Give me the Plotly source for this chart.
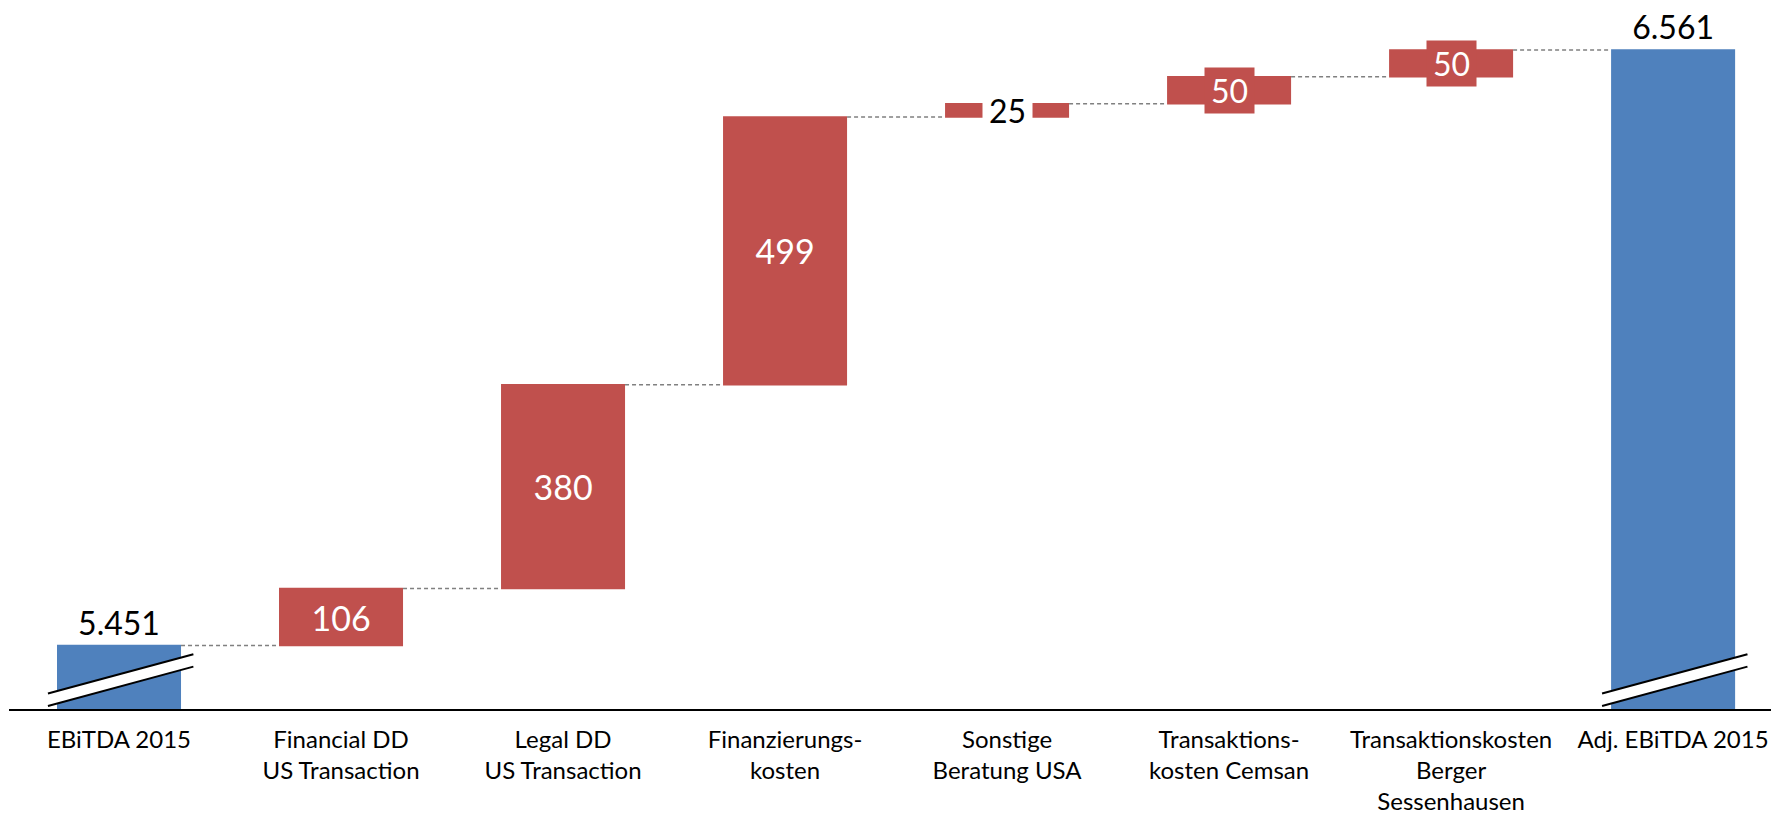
import plotly.graph_objects as go

categories = [
    "EBiTDA 2015",
    "Financial DD<br>US Transaction",
    "Legal DD<br>US Transaction",
    "Finanzierungs-<br>kosten",
    "Sonstige<br>Beratung USA",
    "Transaktions-<br>kosten Cemsan",
    "Transaktionskosten<br>Berger<br>Sessenhausen",
    "Adj. EBiTDA 2015",
]
values = [5451, 106, 380, 499, 25, 50, 50, 6561]
measures = ["absolute", "relative", "relative", "relative", "relative", "relative", "relative", "total"]
# how each value label is shown: "outside" above bar, "inside" in bar, "box" as overlay label
label_style = ["outside", "inside", "inside", "inside", "box_white", "box_red", "box_red", "outside"]

BLUE = "#4F81BD"
RED = "#C0504D"
FONT = "Lato"
Y_MIN, Y_MAX = 5332.5, 6639.4
BAR_W = 0.5586

def fmt(v):
    return f"{v:,}".replace(",", ".")

texts = [fmt(v) for v in values]
textpos = [s if s in ("outside", "inside") else "none" for s in label_style]

fig = go.Figure()
fig.add_trace(go.Waterfall(
    x=list(range(len(categories))),
    y=values,
    measure=measures,
    text=texts,
    textposition=textpos,
    textinfo="text",
    width=BAR_W,
    increasing=dict(marker=dict(color=RED)),
    decreasing=dict(marker=dict(color=RED)),
    totals=dict(marker=dict(color=BLUE)),
    connector=dict(mode="between", line=dict(color="#808080", width=1.5, dash="4px,3px")),
    outsidetextfont=dict(family=FONT, size=32, color="black"),
    insidetextfont=dict(family=FONT, size=34, color="white"),
    insidetextanchor="middle",
    constraintext="none",
    cliponaxis=False,
    hoverinfo="skip",
))

# overlay labels for the thin bars
cum = 0
annotations = []
for i, (v, m, s) in enumerate(zip(values, measures, label_style)):
    if m in ("absolute", "total"):
        lo, hi = Y_MIN, v
        cum = v
    else:
        lo, hi = cum, cum + v
        cum += v
    if s.startswith("box"):
        white = s == "box_white"
        annotations.append(dict(
            x=i, y=(lo + hi) / 2, xref="x", yref="y", text=fmt(v), showarrow=False,
            font=dict(family=FONT, size=32, color="black" if white else "white"),
            bgcolor="white" if white else RED, width=49, height=45, borderpad=0,
            xanchor="center", yanchor="middle",
        ))

# axis break marks on the first and last bars
shapes = []
for i, m in enumerate(measures):
    if m in ("absolute", "total"):
        xl, xr = i - 0.32, i + 0.335
        up_l, up_r = Y_MIN + 29, Y_MIN + 102
        lo_l, lo_r = Y_MIN + 5.6, Y_MIN + 79
        shapes.append(dict(type="path", xref="x", yref="y",
                           path=f"M {xl},{lo_l} L {xr},{lo_r} L {xr},{up_r} L {xl},{up_l} Z",
                           fillcolor="white", line=dict(width=0), layer="above"))
        for (a, b) in ((up_l, up_r), (lo_l, lo_r)):
            shapes.append(dict(type="line", xref="x", yref="y", x0=xl, y0=a, x1=xr, y1=b,
                               line=dict(color="black", width=2), layer="above"))

fig.update_layout(
    width=1771, height=809,
    margin=dict(l=1, r=0, t=0, b=108, autoexpand=False),
    paper_bgcolor="white", plot_bgcolor="white",
    showlegend=False,
    annotations=annotations,
    shapes=shapes,
    xaxis=dict(
        range=[-0.4955, 7.477], automargin=False,
        tickmode="array", tickvals=list(range(len(categories))), ticktext=categories,
        showgrid=False, zeroline=False, showline=True, linecolor="black", linewidth=2,
        ticks="", tickfont=dict(family=FONT, size=24, color="black"),
        ticklabelstandoff=8,
    ),
    yaxis=dict(range=[Y_MIN, Y_MAX], visible=False, showgrid=False, zeroline=False, automargin=False),
)

fig.write_html("out.html")
